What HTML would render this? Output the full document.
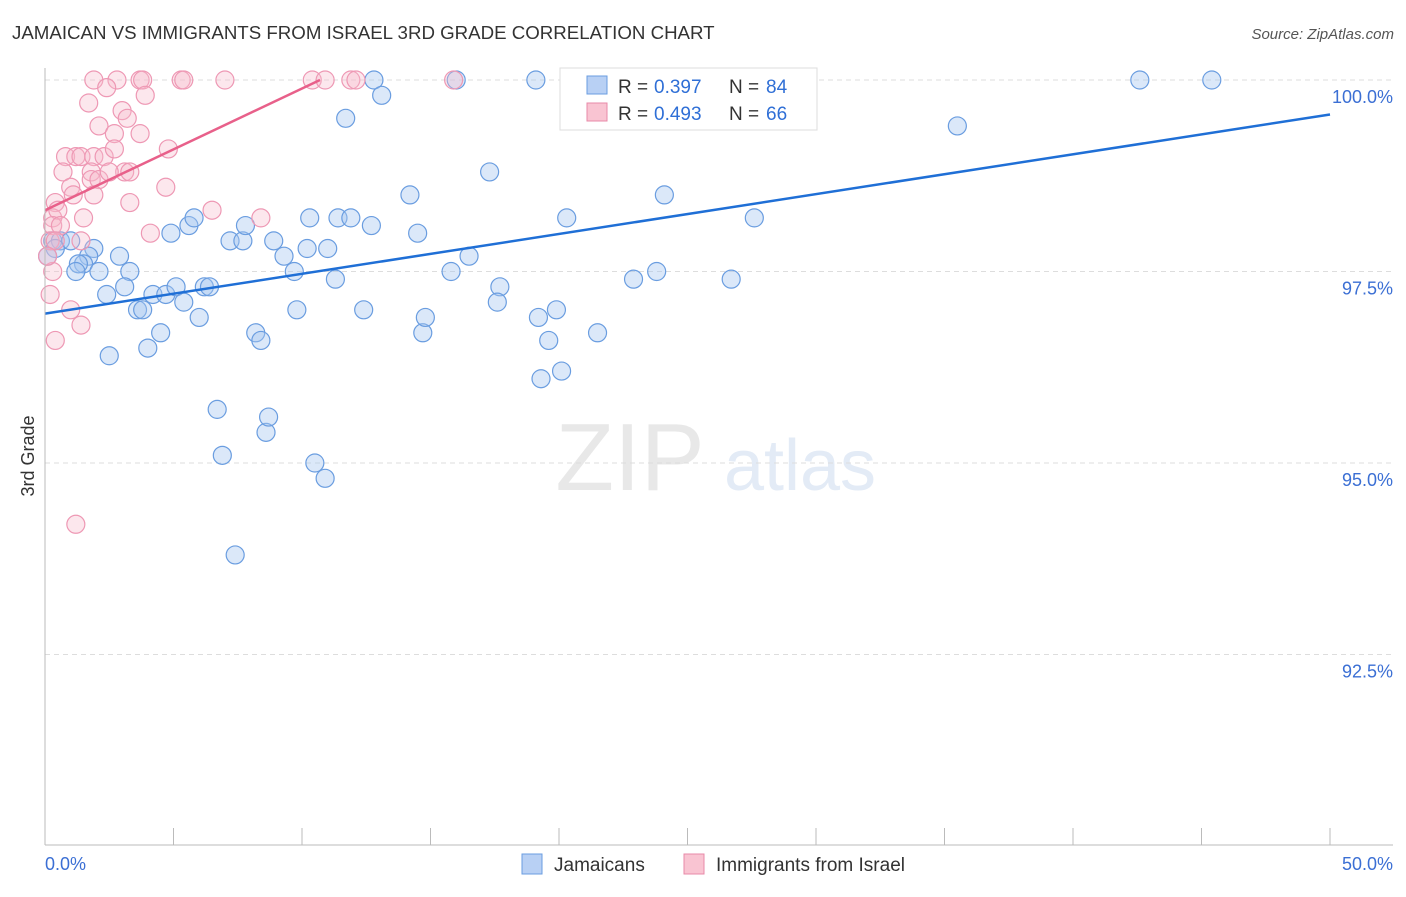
<!DOCTYPE html>
<html><head><meta charset="utf-8"><style>
body{margin:0;background:#fff;font-family:"Liberation Sans",sans-serif}
svg text{font-family:"Liberation Sans",sans-serif}
</style></head><body>
<svg id="chart" width="1406" height="892" xmlns="http://www.w3.org/2000/svg">
<text x="12" y="39" font-size="18.7" fill="#333">JAMAICAN VS IMMIGRANTS FROM ISRAEL 3RD GRADE CORRELATION CHART</text>
<text x="1394" y="39" font-size="15" fill="#555" text-anchor="end" font-style="italic">Source: ZipAtlas.com</text>
<g>
<text x="630" y="490" font-size="96" fill="#e8e8e8" font-family="Liberation Serif" text-anchor="middle">ZIP</text>
<text x="800" y="490" font-size="72" fill="#e3ebf6" text-anchor="middle">atlas</text></g>
<g id="grid"></g><g id="pts"></g><g id="lines"></g><g id="axes"></g>
<text transform="translate(34,456) rotate(-90)" font-size="18" fill="#333" text-anchor="middle">3rd Grade</text>
<g>
<rect x="560" y="68" width="257" height="62" fill="#fff" stroke="#ddd"/>
<rect x="587" y="76" width="20" height="18" fill="#b8d0f4" stroke="#6a9de0"/>
<text x="618" y="93" font-size="19" fill="#333">R =</text>
<text x="654" y="93" font-size="19" fill="#2f6fd6">0.397</text>
<text x="729" y="93" font-size="19" fill="#333">N =</text>
<text x="766" y="93" font-size="19" fill="#2f6fd6">84</text>
<rect x="587" y="103" width="20" height="18" fill="#f9c4d2" stroke="#e88aa8"/>
<text x="618" y="120" font-size="19" fill="#333">R =</text>
<text x="654" y="120" font-size="19" fill="#2f6fd6">0.493</text>
<text x="729" y="120" font-size="19" fill="#333">N =</text>
<text x="766" y="120" font-size="19" fill="#2f6fd6">66</text>
</g>
<g>
<rect x="522" y="854" width="20" height="20" fill="#b8d0f4" stroke="#6a9de0"/>
<text x="554" y="871" font-size="19" fill="#333">Jamaicans</text>
<rect x="684" y="854" width="20" height="20" fill="#f9c4d2" stroke="#e88aa8"/>
<text x="716" y="871" font-size="19" fill="#333">Immigrants from Israel</text>
</g>
</svg>
<script>
const yTicks=[100,97.5,95,92.5];
const yTickLabels=["100.0%","97.5%","95.0%","92.5%"];
const blueX=[0.3,0.6,1.0,1.9,1.7,2.9,1.5,1.3,2.1,3.3,2.4,3.1,3.6,3.8,4.2,4.7,5.1,5.4,4.5,4.0,2.5,6.0,4.9,5.6,5.8,6.2,6.4,7.2,7.7,7.8,8.9,9.3,9.7,9.8,8.2,8.4,6.7,6.9,7.4,8.6,8.7,10.5,10.9,10.3,10.2,11.0,11.3,11.4,11.9,12.7,12.4,11.7,12.8,13.1,14.2,14.5,14.7,14.8,15.8,16.0,16.5,17.3,17.7,17.6,19.1,19.2,19.6,19.3,20.1,19.9,20.3,21.5,22.9,23.8,24.1,26.5,26.7,27.6,35.5,42.6,45.4,0.4,0.1,1.2];
const blueY=[97.9,97.9,97.9,97.8,97.7,97.7,97.6,97.6,97.5,97.5,97.2,97.3,97.0,97.0,97.2,97.2,97.3,97.1,96.7,96.5,96.4,96.9,98.0,98.1,98.2,97.3,97.3,97.9,97.9,98.1,97.9,97.7,97.5,97.0,96.7,96.6,95.7,95.1,93.8,95.4,95.6,95.0,94.8,98.2,97.8,97.8,97.4,98.2,98.2,98.1,97.0,99.5,100.0,99.8,98.5,98.0,96.7,96.9,97.5,100.0,97.7,98.8,97.3,97.1,100.0,96.9,96.6,96.1,96.2,97.0,98.2,96.7,97.4,97.5,98.5,100.0,97.4,98.2,99.4,100.0,100.0,97.8,97.7,97.5];
const pinkX=[1.9,2.8,3.7,3.8,5.3,5.4,7.0,10.4,10.9,11.9,12.1,15.9,2.4,3.9,1.7,3.0,3.2,2.1,2.7,3.7,4.8,0.8,1.2,1.4,1.9,2.3,2.7,1.8,0.7,1.8,2.1,3.1,3.3,4.7,1.0,0.4,1.1,1.9,3.3,6.5,8.4,0.3,0.5,1.5,0.3,0.6,4.1,0.2,0.4,1.4,0.3,0.2,1.0,1.4,0.4,1.2,2.5,0.1];
const pinkY=[100,100,100,100,100,100,100,100,100,100,100,100,99.9,99.8,99.7,99.6,99.5,99.4,99.3,99.3,99.1,99.0,99.0,99.0,99.0,99.0,99.1,98.8,98.8,98.7,98.7,98.8,98.8,98.6,98.6,98.4,98.5,98.5,98.4,98.3,98.2,98.2,98.3,98.2,98.1,98.1,98.0,97.9,97.9,97.9,97.5,97.2,97.0,96.8,96.6,94.2,98.8,97.7];
const blueLine=[[0,96.95],[50,99.55]];
const pinkLine=[[0,98.3],[10.7,100]];
const X0=45,X1=1330,Y100=80,PX=76.6;
const sx=v=>X0+(X1-X0)*v/50, sy=v=>Y100+(100-v)*PX;
const NS="http://www.w3.org/2000/svg";
function mk(tag,attrs,parent){const e=document.createElementNS(NS,tag);for(const k in attrs)e.setAttribute(k,attrs[k]);document.getElementById(parent).appendChild(e);return e;}
yTicks.forEach((t,i)=>{
 const g=mk('line',{x1:45,x2:1393,y1:sy(t),y2:sy(t),stroke:'#ddd','stroke-dasharray':'5,4'},'grid');
 
 
 const l=mk('text',{x:1393,y:sy(t)+23,'font-size':18,fill:'#3b6fd4','text-anchor':'end'},'axes');
 l.textContent=yTickLabels[i];
 
 
});
blueX.forEach((x,i)=>{
 const c=mk('circle',{cx:sx(x),cy:sy(blueY[i]),r:9,fill:'rgba(165,198,240,0.4)',stroke:'#6a9de0','stroke-width':1.2},'pts');
 
 
});
pinkX.forEach((x,i)=>{
 const c=mk('circle',{cx:sx(x),cy:sy(pinkY[i]),r:9,fill:'rgba(247,185,204,0.35)',stroke:'#ee98b4','stroke-width':1.2},'pts');
 
 
});
const bl=mk('line',{x1:sx(blueLine[0][0]),y1:sy(blueLine[0][1]),x2:sx(blueLine[1][0]),y2:sy(blueLine[1][1]),stroke:'#1f6fd6','stroke-width':2.5},'lines');


const pl=mk('line',{x1:sx(pinkLine[0][0]),y1:sy(pinkLine[0][1]),x2:sx(pinkLine[1][0]),y2:sy(pinkLine[1][1]),stroke:'#e8608a','stroke-width':2.5},'lines');


const ya=mk('line',{x1:45,x2:45,y1:68,y2:845,stroke:'#bbb'},'axes');


const xa=mk('line',{x1:45,x2:1393,y1:845,y2:845,stroke:'#bbb'},'axes');


for(let i=0;i<=10;i++){
 const t=mk('line',{x1:sx(i*5),x2:sx(i*5),y1:828,y2:845,stroke:'#bbb'},'axes');
 
 
}
const xl0=mk('text',{x:45,y:870,'font-size':18,fill:'#3b6fd4'},'axes');xl0.textContent='0.0%';


const xl1=mk('text',{x:1393,y:870,'font-size':18,fill:'#3b6fd4','text-anchor':'end'},'axes');xl1.textContent='50.0%';


</script>
</body></html>
